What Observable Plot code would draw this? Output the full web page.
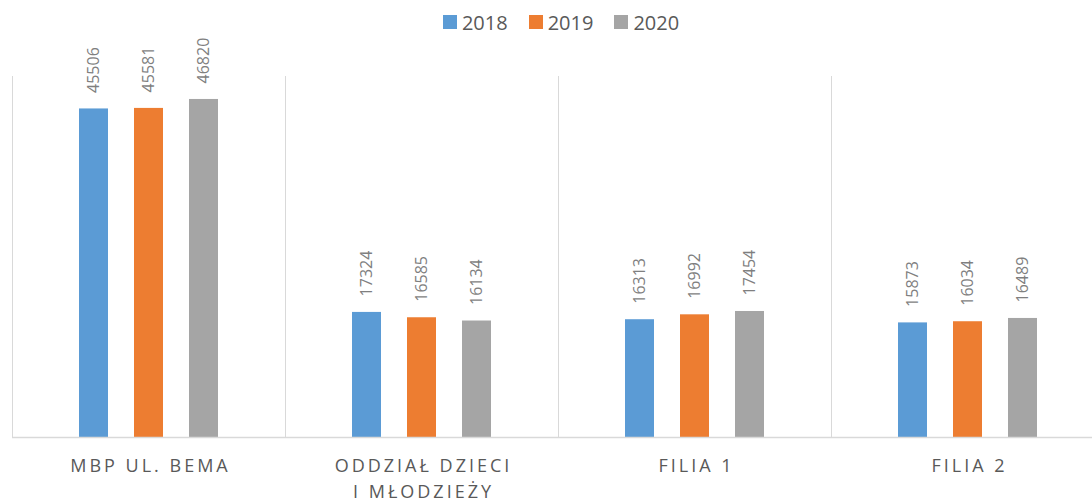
<!DOCTYPE html>
<html>
<head>
<meta charset="utf-8">
<script src="https://cdn.jsdelivr.net/npm/d3@7"></script>
<script src="https://cdn.jsdelivr.net/npm/@observablehq/plot@0.6"></script>
<style>
  html, body { margin: 0; padding: 0; background: #fff; overflow: hidden; }
  body { font-family: "Open Sans", sans-serif; width: 1092px; height: 500px; }
  #legend { position: relative; z-index: 0; height: 44px; display: flex; align-items: center; justify-content: center; padding-left: 30px; box-sizing: border-box; }
  .item { display: flex; align-items: center; margin-right: 21px; color: #595959; font-size: 20px; }
  .item:last-child { margin-right: 0; }
  .swatch { width: 14px; height: 14px; margin-right: 5px; }
  #chart svg { overflow: visible; }
</style>
</head>
<body>
<div id="legend"></div>
<div id="chart"></div>
<script>
const categories = ["MBP UL. BEMA", "ODDZIAŁ DZIECI\nI MŁODZIEŻY", "FILIA 1", "FILIA 2"];
const years = ["2018", "2019", "2020"];
const values2018 = [45506, 17324, 16313, 15873];
const values2019 = [45581, 16585, 16992, 16034];
const values2020 = [46820, 16134, 17454, 16489];
const colors = ["#5b9bd5", "#ed7d31", "#a5a5a5"];

const series = [values2018, values2019, values2020];
const rows = [];
categories.forEach((c, i) => {
  years.forEach((yr, j) => rows.push({category: c, year: yr, value: series[j][i]}));
});

// legend
const legend = document.getElementById("legend");
years.forEach((yr, j) => {
  const it = document.createElement("div");
  it.className = "item";
  const sw = document.createElement("span");
  sw.className = "swatch";
  sw.style.background = colors[j];
  const t = document.createElement("span");
  t.textContent = yr;
  it.appendChild(sw); it.appendChild(t);
  legend.appendChild(it);
});

const chart = Plot.plot({
  width: 1092,
  height: 456,
  marginTop: 32,
  marginBottom: 63,
  marginLeft: 11,
  marginRight: -12.6,
  style: {fontFamily: "Open Sans", background: "transparent", overflow: "visible"},
  fx: {domain: categories, padding: 0, axis: null},
  x: {domain: years, paddingInner: 0.48, paddingOuter: 1.181, axis: null},
  y: {domain: [0, 50000], axis: null},
  color: {domain: years, range: colors},
  marks: [
    Plot.frame({anchor: "left", stroke: "#d9d9d9", strokeWidth: 1}),
    Plot.barY(rows, {fx: "category", x: "year", y: "value", fill: "year"}),
    Plot.text(rows, {
      fx: "category", x: "year", y: "value", text: d => String(d.value),
      rotate: -90, textAnchor: "start", dy: -16, fill: "#7f7f7f", fontSize: 16
    }),
    Plot.ruleY([0], {stroke: "#d9d9d9", strokeWidth: 1.5}),
    Plot.text(categories, {
      fx: d => d, text: d => d, frameAnchor: "bottom", lineAnchor: "top",
      dy: 16, dx: 1.5, fontSize: 18, lineHeight: 1.45, fill: "#595959"
    })
  ]
});
d3.select(chart).selectAll("text")
  .filter(function () { return !/^\d+$/.test(this.textContent.trim()); })
  .attr("letter-spacing", "3px");
document.getElementById("chart").appendChild(chart);
</script>
</body>
</html>
